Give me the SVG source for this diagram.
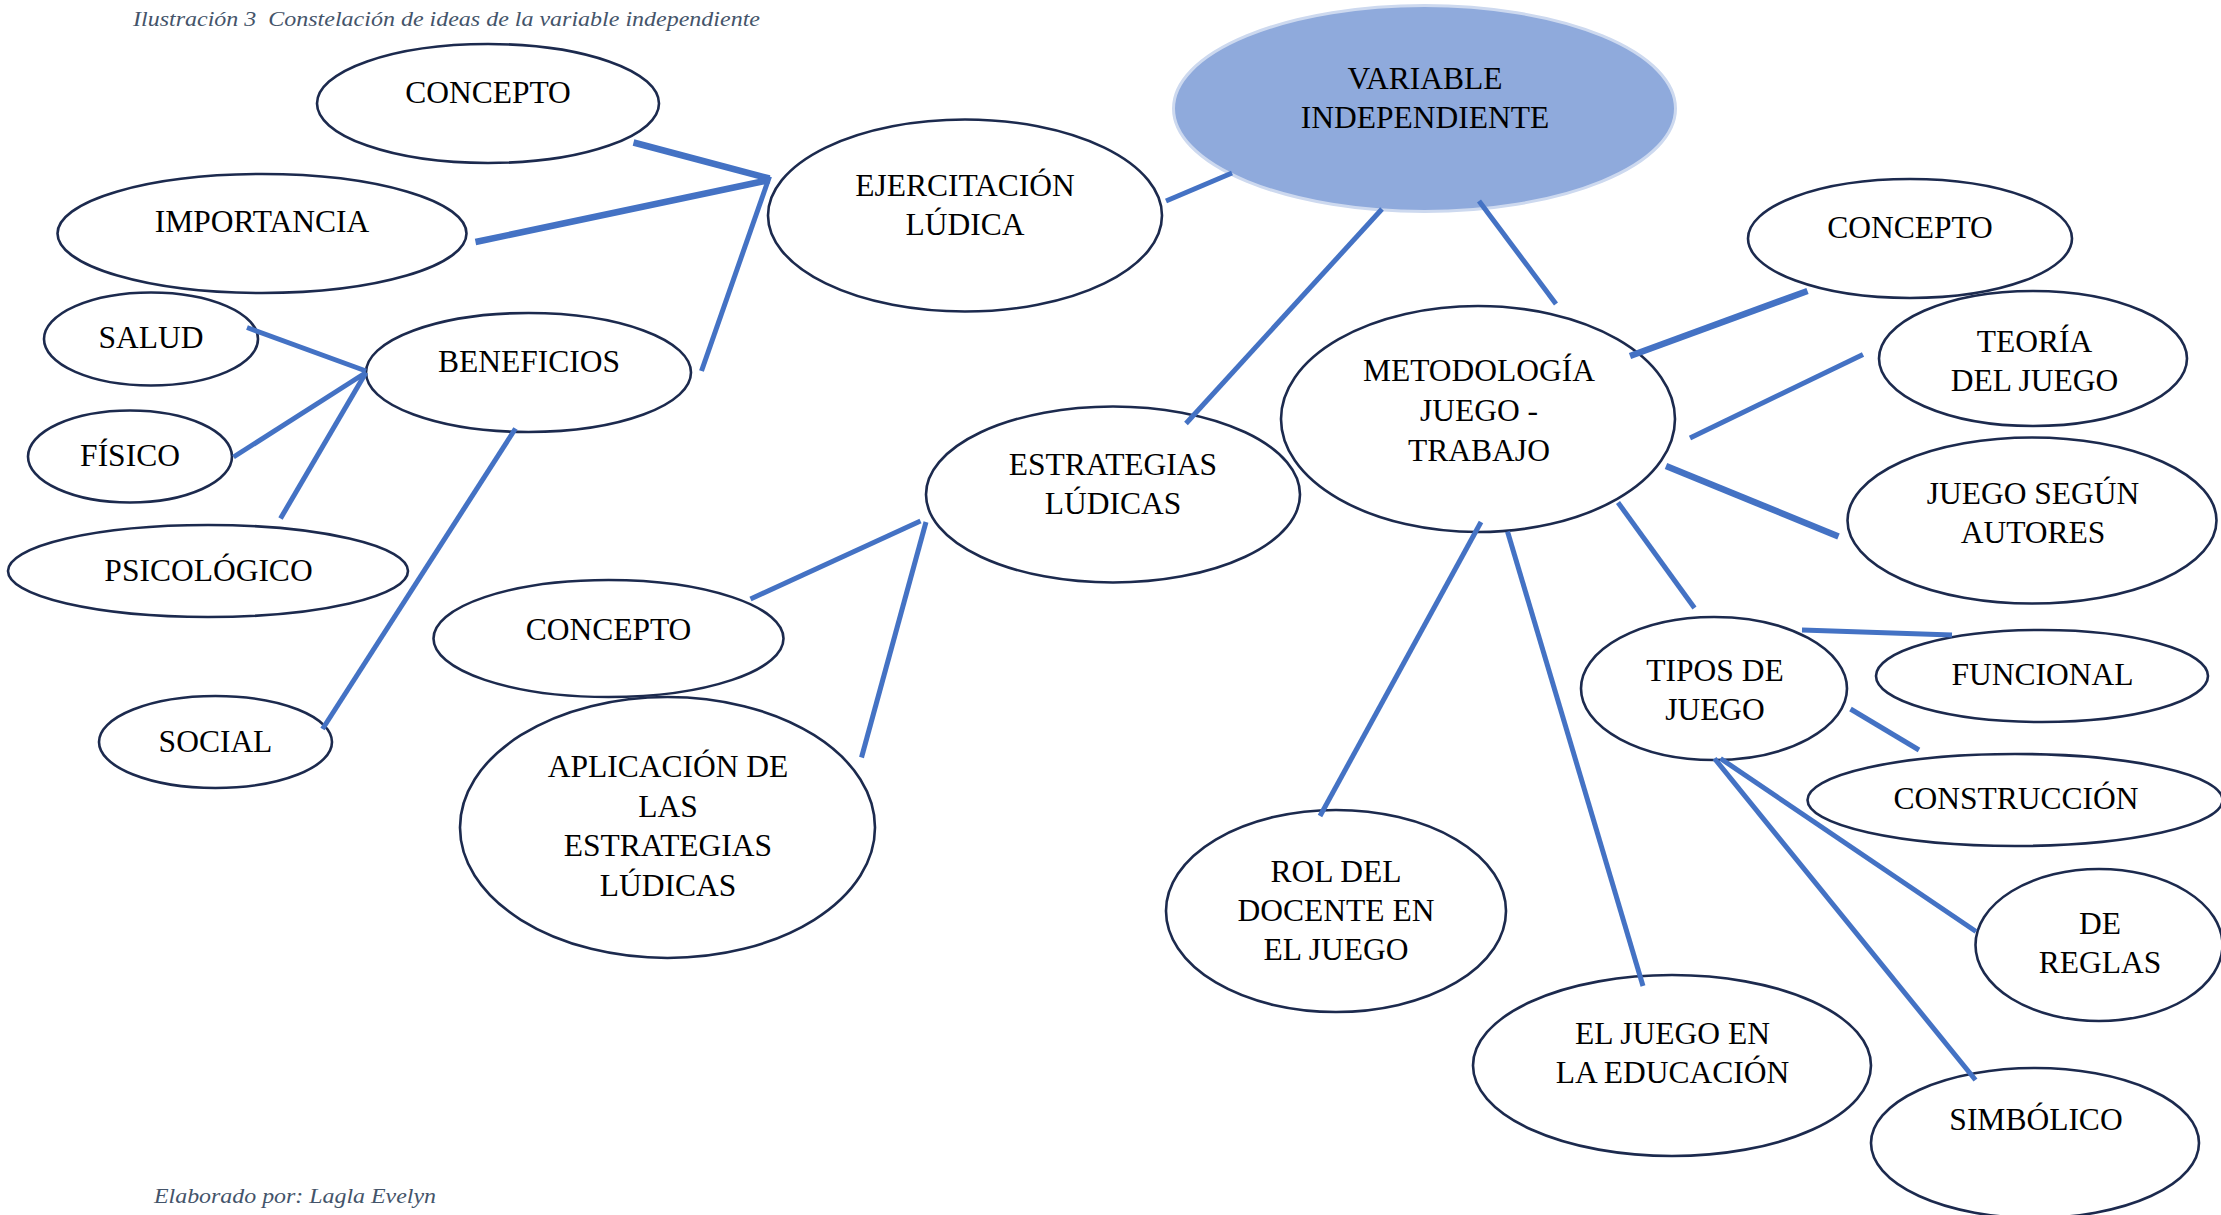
<svg xmlns="http://www.w3.org/2000/svg" width="2221" height="1215" viewBox="0 0 2221 1215">
<style>
.n{fill:#ffffff;stroke:#1c2a4e;stroke-width:2.6}
.c{stroke:#4472c4;stroke-width:5;stroke-linecap:butt;fill:none}
.t{stroke-width:6.5}
text{font-family:"Liberation Serif","Times New Roman",serif;font-size:31.5px;fill:#000;text-anchor:middle}
.cap{font-style:italic;font-size:22px;fill:#44546a;text-anchor:start}
</style>
<rect width="2221" height="1215" fill="#ffffff"/>
<text class="cap" x="133" y="26" textLength="627" lengthAdjust="spacingAndGlyphs">Ilustración 3&#160; Constelación de ideas de la variable independiente</text>
<g id="n-variable"><ellipse cx="1424.5" cy="108.5" rx="251" ry="103" fill="#8faadc" stroke="#cdd9ef" stroke-width="3"/><text x="1425" y="89">VARIABLE</text><text x="1425" y="128">INDEPENDIENTE</text></g>
<g id="n-ejercitacion"><ellipse class="n" cx="965" cy="215.5" rx="197" ry="96"/><text x="965" y="196">EJERCITACIÓN</text><text x="965" y="235">LÚDICA</text></g>
<g id="n-concepto1"><ellipse class="n" cx="488" cy="103.5" rx="171" ry="59.5"/><text x="488" y="103">CONCEPTO</text></g>
<g id="n-importancia"><ellipse class="n" cx="262" cy="233.5" rx="204.5" ry="59.5"/><text x="262" y="232">IMPORTANCIA</text></g>
<g id="n-salud"><ellipse class="n" cx="151" cy="339" rx="107" ry="46.5"/><text x="151" y="347.5">SALUD</text></g>
<g id="n-beneficios"><ellipse class="n" cx="528.5" cy="372.5" rx="162.5" ry="59.5"/><text x="529" y="372">BENEFICIOS</text></g>
<g id="n-fisico"><ellipse class="n" cx="130" cy="456.5" rx="102" ry="46"/><text x="130" y="465.5">FÍSICO</text></g>
<g id="n-psicologico"><ellipse class="n" cx="208" cy="571" rx="200" ry="46"/><text x="208.5" y="581">PSICOLÓGICO</text></g>
<g id="n-social"><ellipse class="n" cx="215.5" cy="742" rx="116.5" ry="46"/><text x="215.5" y="752">SOCIAL</text></g>
<g id="n-concepto2"><ellipse class="n" cx="608.5" cy="638.5" rx="175" ry="58.5"/><text x="608.5" y="639.5">CONCEPTO</text></g>
<g id="n-aplicacion"><ellipse class="n" cx="667.5" cy="827.5" rx="207.5" ry="130.5"/><text x="668" y="777">APLICACIÓN DE</text><text x="668" y="817">LAS</text><text x="668" y="856">ESTRATEGIAS</text><text x="668" y="896">LÚDICAS</text></g>
<g id="n-estrategias"><ellipse class="n" cx="1113" cy="494.5" rx="187" ry="88"/><text x="1113" y="475">ESTRATEGIAS</text><text x="1113" y="514">LÚDICAS</text></g>
<g id="n-metodologia"><ellipse class="n" cx="1478" cy="419" rx="197" ry="113"/><text x="1479" y="381">METODOLOGÍA</text><text x="1479" y="420.5">JUEGO -</text><text x="1479" y="460.5">TRABAJO</text></g>
<g id="n-concepto3"><ellipse class="n" cx="1910" cy="238.5" rx="162" ry="59.5"/><text x="1910" y="237.5">CONCEPTO</text></g>
<g id="n-teoria"><ellipse class="n" cx="2033" cy="358.5" rx="154" ry="67.5"/><text x="2034.5" y="351.5">TEORÍA</text><text x="2034.5" y="391">DEL JUEGO</text></g>
<g id="n-segun"><ellipse class="n" cx="2032" cy="520.5" rx="184.5" ry="83"/><text x="2033" y="504">JUEGO SEGÚN</text><text x="2033" y="543">AUTORES</text></g>
<g id="n-tipos"><ellipse class="n" cx="1714" cy="688.5" rx="133" ry="71.5"/><text x="1715" y="680.5">TIPOS DE</text><text x="1715" y="719.5">JUEGO</text></g>
<g id="n-funcional"><ellipse class="n" cx="2042" cy="676" rx="166" ry="46"/><text x="2042.5" y="685">FUNCIONAL</text></g>
<g id="n-construccion"><ellipse class="n" cx="2015" cy="800" rx="207.5" ry="46"/><text x="2016" y="809">CONSTRUCCIÓN</text></g>
<g id="n-reglas"><ellipse class="n" cx="2099" cy="945" rx="123.5" ry="76"/><text x="2100" y="934">DE</text><text x="2100" y="973">REGLAS</text></g>
<g id="n-simbolico"><ellipse class="n" cx="2035" cy="1143" rx="164" ry="75"/><text x="2036" y="1130">SIMBÓLICO</text></g>
<g id="n-rol"><ellipse class="n" cx="1336" cy="911" rx="170" ry="101"/><text x="1336" y="882">ROL DEL</text><text x="1336" y="921">DOCENTE EN</text><text x="1336" y="960">EL JUEGO</text></g>
<g id="n-educacion"><ellipse class="n" cx="1672" cy="1065.5" rx="199" ry="90.5"/><text x="1672.5" y="1043.5">EL JUEGO EN</text><text x="1672.5" y="1082.5">LA EDUCACIÓN</text></g>
<g id="connectors">
<line class="c t" x1="633.5" y1="142.5" x2="769.5" y2="178.5"/>
<line class="c t" x1="475.5" y1="242" x2="769.5" y2="180"/>
<line class="c" x1="701.5" y1="371" x2="769.5" y2="176.5"/>
<line class="c" x1="1166" y1="201" x2="1232" y2="173"/>
<line class="c" x1="1382" y1="209" x2="1186" y2="423.5"/>
<line class="c" x1="1479" y1="201" x2="1556" y2="304"/>
<line class="c" x1="247" y1="327.5" x2="366" y2="371"/>
<line class="c" x1="233.5" y1="457" x2="366" y2="372.5"/>
<line class="c" x1="280.5" y1="518.5" x2="366" y2="372.5"/>
<line class="c" x1="322.5" y1="729" x2="515.5" y2="428.5"/>
<line class="c" x1="750.5" y1="599" x2="920.5" y2="521"/>
<line class="c" x1="861.5" y1="757.5" x2="926" y2="522"/>
<line class="c t" x1="1630" y1="356" x2="1807.5" y2="291"/>
<line class="c" x1="1690" y1="438" x2="1863" y2="354.5"/>
<line class="c t" x1="1666" y1="466" x2="1838.5" y2="536.5"/>
<line class="c" x1="1618" y1="502.5" x2="1694.5" y2="608"/>
<line class="c" x1="1481" y1="522" x2="1320" y2="816"/>
<line class="c" x1="1507.5" y1="531.5" x2="1643" y2="986"/>
<line class="c" x1="1802" y1="630" x2="1952" y2="635"/>
<line class="c" x1="1850.5" y1="709" x2="1919" y2="750"/>
<line class="c" x1="1720.5" y1="758.5" x2="1976" y2="931.5"/>
<line class="c" x1="1714.5" y1="758.5" x2="1975.5" y2="1080"/>
</g>
<text class="cap" x="154" y="1203" textLength="282" lengthAdjust="spacingAndGlyphs">Elaborado por: Lagla Evelyn</text>
</svg>
